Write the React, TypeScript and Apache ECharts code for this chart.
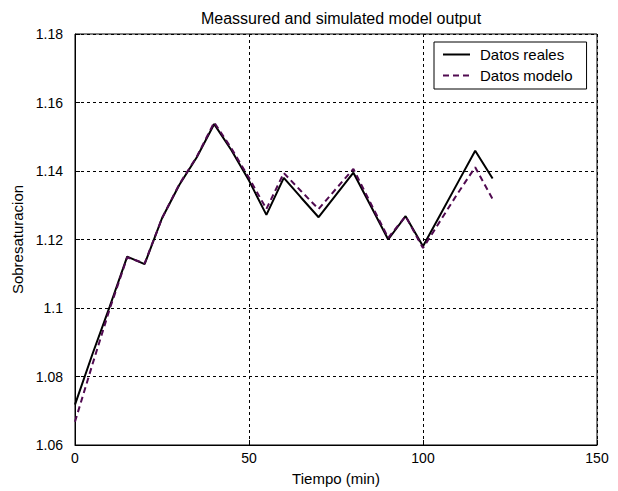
import React, { useEffect, useRef } from "react";
import * as echarts from "echarts";

const times = [0, 5, 10, 15, 20, 25, 30, 35, 40, 45, 50, 55, 60, 65, 70, 75, 80, 85, 90, 95, 100, 105, 110, 115, 120];
const datosReales = [1.0718, 1.0865, 1.1005, 1.115, 1.1128, 1.1262, 1.136, 1.144, 1.1537, 1.146, 1.1372, 1.1272, 1.138, 1.1322, 1.1265, 1.133, 1.1395, 1.1298, 1.12, 1.1268, 1.118, 1.1273, 1.1366, 1.1459, 1.1378];
const datosModelo = [1.0668, 1.0835, 1.0998, 1.1148, 1.113, 1.1262, 1.1362, 1.1442, 1.1542, 1.1465, 1.138, 1.1289, 1.1394, 1.1341, 1.1289, 1.1348, 1.1406, 1.1305, 1.1205, 1.1268, 1.1175, 1.1255, 1.1335, 1.1411, 1.1318];
const seriesNames = ["Datos reales", "Datos modelo"];
const titleText = "Meassured and simulated model output";
const xName = "Tiempo (min)";
const yName = "Sobresaturacion";

const FONT = "'Liberation Sans', Arial, Helvetica, sans-serif";

export default function App() {
  const ref = useRef<HTMLDivElement>(null);
  useEffect(() => {
    if (!ref.current) return;
    const chart = echarts.init(ref.current, undefined, { renderer: "svg" });
    const grid = { left: 75, right: 21, top: 34, bottom: 45 };
    chart.setOption({
      animation: false,
      backgroundColor: "#ffffff",
      textStyle: { fontFamily: FONT },
      title: {
        text: titleText,
        left: 336,
        textAlign: "center",
        top: 5,
        textStyle: { fontFamily: FONT, fontSize: 16, fontWeight: "normal", color: "#000" },
      },
      legend: {
        orient: "vertical",
        left: 434,
        top: 42,
        padding: [5, 14, 6, 8],
        itemGap: 6,
        itemWidth: 27,
        itemHeight: 14,
        borderColor: "#000",
        borderWidth: 1,
        backgroundColor: "#fff",
        itemStyle: { opacity: 0 },
        textStyle: { fontFamily: FONT, fontSize: 15, color: "#000", padding: [0, 0, 0, 5] },
        data: seriesNames,
      },
      grid: { ...grid, show: true, borderColor: "#000", borderWidth: 1, backgroundColor: "#fff" },
      xAxis: {
        type: "value",
        min: 0,
        max: 150,
        interval: 50,
        name: xName,
        nameLocation: "middle",
        nameGap: 26,
        nameTextStyle: { fontFamily: FONT, fontSize: 15, color: "#000" },
        axisLine: { show: true, lineStyle: { color: "#000", width: 1 } },
        axisTick: { show: true, inside: true, length: 5, lineStyle: { color: "#000" } },
        axisLabel: { fontFamily: FONT, fontSize: 14, color: "#000", margin: 6 },
        splitLine: { show: true, lineStyle: { color: "#000", type: [3, 3], width: 1 } },
      },
      yAxis: {
        type: "value",
        min: 1.06,
        max: 1.18,
        interval: 0.02,
        name: yName,
        nameLocation: "middle",
        nameGap: 45,
        nameTextStyle: { fontFamily: FONT, fontSize: 15, color: "#000" },
        axisLine: { show: true, lineStyle: { color: "#000", width: 1 } },
        axisTick: { show: true, inside: true, length: 5, lineStyle: { color: "#000" } },
        axisLabel: {
          fontFamily: FONT,
          fontSize: 14,
          color: "#000",
          margin: 12,
          formatter: (v: number) => String(parseFloat(v.toFixed(2))),
        },
        splitLine: { show: true, lineStyle: { color: "#000", type: [3, 3], width: 1 } },
      },
      series: [
        {
          name: seriesNames[0],
          type: "line",
          data: times.map((t, i) => [t, datosReales[i]]),
          symbol: "none",
          lineStyle: { color: "#000", width: 2 },
          itemStyle: { color: "#000" },
          z: 3,
        },
        {
          name: seriesNames[1],
          type: "line",
          data: times.map((t, i) => [t, datosModelo[i]]),
          symbol: "none",
          lineStyle: { color: "#500a50", width: 2, type: [6, 4] },
          itemStyle: { color: "#500a50" },
          z: 4,
        },
      ],
    });
    return () => chart.dispose();
  }, []);
  return (
    <div
      ref={ref}
      style={{ position: "fixed", left: 0, top: 0, width: 618, height: 491, background: "#fff" }}
    />
  );
}
